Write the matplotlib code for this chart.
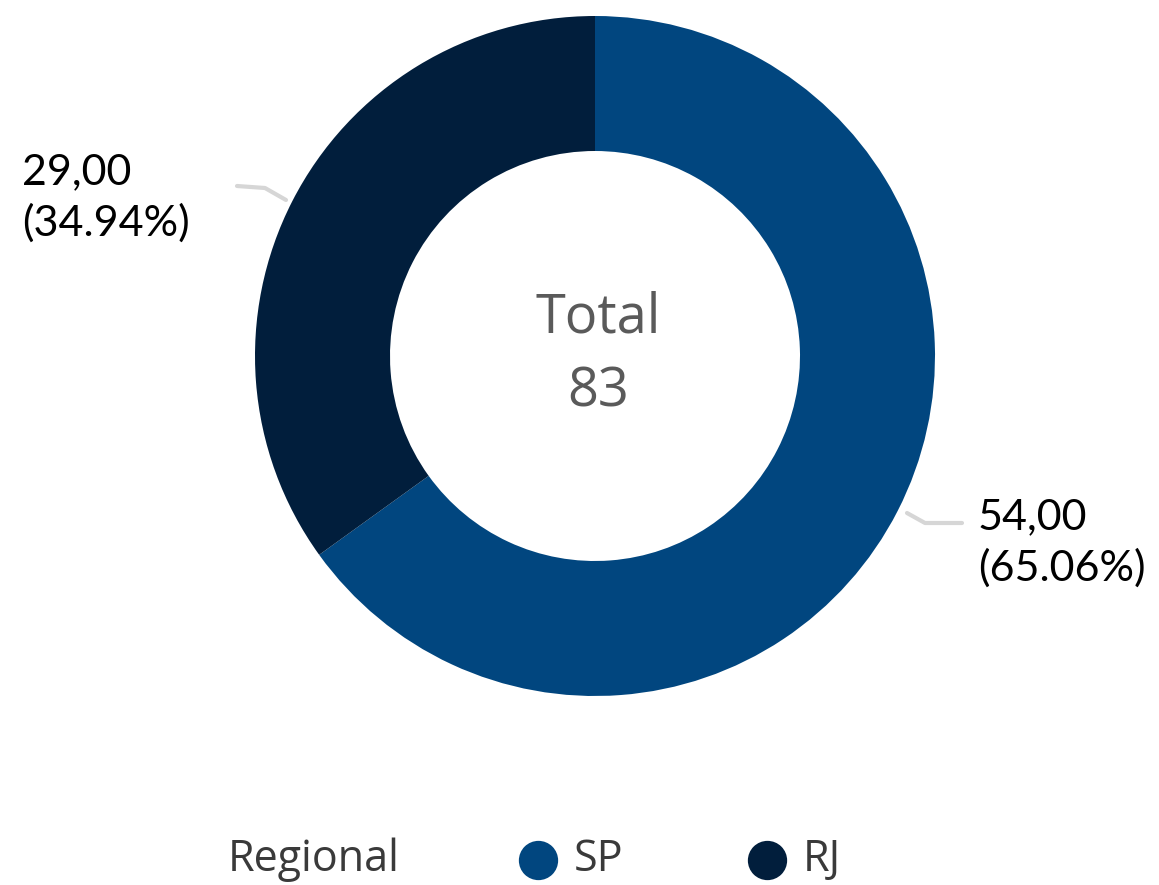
import matplotlib.pyplot as plt

# regional totals
regioes = ['SP', 'RJ']
valores = [54, 29]
cores = ['#01467f', '#011e3c']

total = sum(valores)
pct = [v / total * 100 for v in valores]

W, H = 1159, 885
fig = plt.figure(figsize=(W / 100, H / 100), dpi=100)
ax = fig.add_axes([0, 0, 1, 1])
ax.set_xlim(0, W)
ax.set_ylim(0, H)
ax.set_aspect('equal')
ax.axis('off')

cx, cy = 595, H - 356
r_ext, r_int = 340, 205

ax.pie(valores, colors=cores, startangle=90, counterclock=False,
       center=(cx, cy), radius=r_ext,
       wedgeprops=dict(width=r_ext - r_int, linewidth=0), frame=True)
ax.set_xlim(0, W)
ax.set_ylim(0, H)
ax.axis('off')

# center total
ax.text(cx + 3, H - 318, 'Total', ha='center', va='center',
        fontsize=39, color='#5a5a5a', family='Open Sans')
ax.text(cx + 3, H - 392, str(total), ha='center', va='center',
        fontsize=39, color='#5a5a5a', family='Open Sans')

# data labels with leader lines
linha = dict(color='#d6d6d6', lw=3, solid_capstyle='round')
ax.plot([237, 265, 286], [H - 186, H - 188, H - 200], **linha)
ax.plot([907, 925, 962], [H - 513, H - 523, H - 523], **linha)

fmt = lambda v, p: f'{v:.2f}'.replace('.', ',') + f'\n({p:.2f}%)'
ax.text(22, H - 198, fmt(valores[1], pct[1]), ha='left', va='center',
        fontsize=31, color='black', family='Lato', linespacing=1.4)
ax.text(978, H - 543, fmt(valores[0], pct[0]), ha='left', va='center',
        fontsize=31, color='black', family='Lato', linespacing=1.4)

# legend
ax.text(228, H - 860, 'Regional', ha='left', va='center',
        fontsize=31, color='#3a3a3a', family='Open Sans')
for nome, cor, x in zip(regioes, cores, [538, 767]):
    ax.scatter([x], [H - 860], s=800, color=cor, linewidths=0)
    ax.text(x + 36, H - 860, nome, ha='left', va='center',
            fontsize=31, color='#3a3a3a', family='Open Sans')

fig.savefig('out.png', dpi=100)
